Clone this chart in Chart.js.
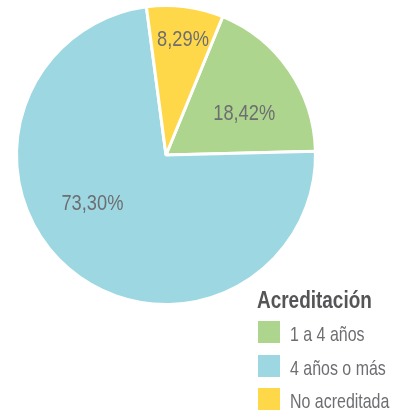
<!DOCTYPE html>
<html>
<head>
<meta charset="utf-8">
<script src="https://cdn.jsdelivr.net/npm/chart.js@4"></script>
<style>
  html, body { margin: 0; padding: 0; background: #fff; }
  #wrap { position: relative; width: 405px; height: 413px; }
  #legend { position: absolute; left: 0; top: 0; font-family: "Liberation Sans", Arial, sans-serif; }
  .title { position: absolute; left: 257px; top: 286px; font-size: 24px; line-height: 28px; font-weight: bold; color: #555557; white-space: nowrap; transform: scaleX(0.79); transform-origin: 0 0; }
  .box { position: absolute; left: 258px; width: 22px; height: 22px; }
  .lbl { position: absolute; left: 290px; font-size: 21px; line-height: 24px; color: #6d6e71; white-space: nowrap; transform: scaleX(0.76); transform-origin: 0 0; }
</style>
</head>
<body>
<div id="wrap">
  <canvas id="chart" width="405" height="413"></canvas>
  <div id="legend"></div>
</div>
<script>
const legendTitle = "Acreditación";
const categories = ["1 a 4 años", "4 años o más", "No acreditada"];
const shares = [18.42, 73.30, 8.29];
const colors = ["#aed58d", "#9dd8e2", "#ffd84a"];

// label placement inside each slice (fraction of radius, angle nudge in degrees)
const labelRadius = [0.59, 0.59, 0.78];
const labelNudge = [7, 16, 1];

const sliceLabels = {
  id: "sliceLabels",
  afterDatasetsDraw(chart) {
    const { ctx } = chart;
    const meta = chart.getDatasetMeta(0);
    meta.data.forEach((arc, i) => {
      const p = arc.getProps(["x", "y", "startAngle", "endAngle", "outerRadius"], true);
      const mid = (p.startAngle + p.endAngle) / 2 + labelNudge[i] * Math.PI / 180;
      const r = p.outerRadius * labelRadius[i];
      const text = shares[i].toFixed(2).replace(".", ",") + "%";
      ctx.save();
      ctx.translate(p.x + Math.cos(mid) * r, p.y + Math.sin(mid) * r);
      ctx.scale(0.83, 1); // condensed look
      ctx.font = "22px 'Liberation Sans', Arial, sans-serif";
      ctx.fillStyle = "#6d6e71";
      ctx.textAlign = "center";
      ctx.textBaseline = "middle";
      ctx.fillText(text, 0, 0);
      ctx.restore();
    });
  }
};

new Chart(document.getElementById("chart"), {
  type: "pie",
  data: {
    labels: categories,
    datasets: [{
      data: shares,
      backgroundColor: colors,
      borderColor: "#ffffff",
      borderWidth: 3,
    }],
  },
  options: {
    responsive: false,
    animation: false,
    rotation: 22.3,
    layout: { padding: { left: 15, top: 4, right: 88, bottom: 107 } },
    plugins: {
      legend: { display: false },
      tooltip: { enabled: false },
    },
  },
  plugins: [sliceLabels],
});

// legend built from the same arrays
const legend = document.getElementById("legend");
const t = document.createElement("div");
t.className = "title";
t.textContent = legendTitle;
legend.appendChild(t);
categories.forEach((c, i) => {
  const top = 321 + i * 33.5;
  const b = document.createElement("div");
  b.className = "box";
  b.style.top = top + "px";
  b.style.background = colors[i];
  legend.appendChild(b);
  const l = document.createElement("div");
  l.className = "lbl";
  l.style.top = (top + 1) + "px";
  l.textContent = c;
  legend.appendChild(l);
});
</script>
</body>
</html>
